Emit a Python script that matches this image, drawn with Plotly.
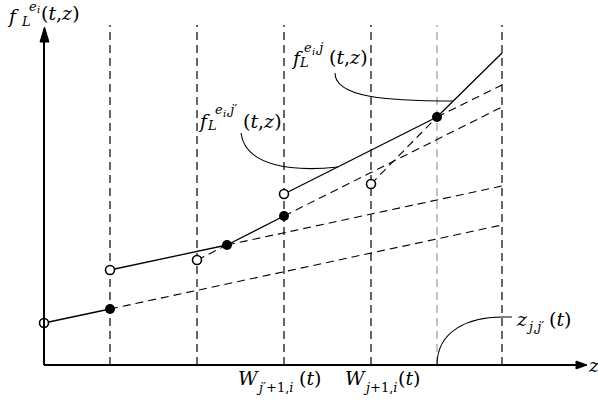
import plotly.graph_objects as go

# ---- data (z, f in chart units: z = distance from origin, f = height) ----
grid_z = [66, 153, 240, 327, 393, 458]          # vertical dashed guides
grid_color = ["black", "black", "black", "black", "#9a9a9a", "black"]
grid_top = 340

open_z = [0, 66, 153, 240, 327]
open_f = [42, 95, 105, 171, 181]
filled_z = [66, 183, 240, 393]
filled_f = [56, 120, 149, 248]

solid_segments = [
    ([0, 66], [42, 56]),
    ([66, 183], [95, 120]),
    ([183, 240], [120, 149]),
    ([240, 393], [171, 248]),
    ([393, 458], [248, 312]),
]
dashed_segments = [
    ([66, 458], [56, 140]),
    ([183, 458], [120, 179]),
    ([153, 183], [105, 120]),
    ([240, 458], [149, 258]),
    ([393, 458], [248, 280]),
    ([327, 393], [181, 248]),
]

# pixel helpers (figure is 598x404, plot fills it, 1 unit = 1 px)
OX, OY = 44, 365
def X(px):
    return px - OX
def Y(py):
    return OY - py

fig = go.Figure()

for gz, gc in zip(grid_z, grid_color):
    fig.add_trace(go.Scatter(x=[gz, gz], y=[0, grid_top], mode="lines",
                             line=dict(color=gc, width=1.2, dash="8px,5px"),
                             hoverinfo="skip", showlegend=False))

for xs, ys in dashed_segments:
    fig.add_trace(go.Scatter(x=xs, y=ys, mode="lines",
                             line=dict(color="black", width=1.1, dash="8px,5px"),
                             hoverinfo="skip", showlegend=False))
for xs, ys in solid_segments:
    fig.add_trace(go.Scatter(x=xs, y=ys, mode="lines",
                             line=dict(color="black", width=1.3),
                             hoverinfo="skip", showlegend=False))

fig.add_trace(go.Scatter(x=open_z, y=open_f, mode="markers",
                         marker=dict(symbol="circle", size=9, color="white",
                                     line=dict(color="black", width=1.6)),
                         showlegend=False, hoverinfo="skip"))
fig.add_trace(go.Scatter(x=filled_z, y=filled_f, mode="markers",
                         marker=dict(symbol="circle", size=10, color="black",
                                     line=dict(width=0)),
                         showlegend=False, hoverinfo="skip"))

shapes = []
# axes
shapes.append(dict(type="line", xref="x", yref="y", x0=0, y0=0, x1=0, y1=Y(40),
                   line=dict(color="black", width=2)))
shapes.append(dict(type="line", xref="x", yref="y", x0=0, y0=0, x1=X(578), y1=0,
                   line=dict(color="black", width=2)))
# arrow heads
shapes.append(dict(type="path", xref="x", yref="y",
                   path=f"M {X(40)},{Y(42)} L {X(44.5)},{Y(27)} L {X(49)},{Y(42)} Z",
                   fillcolor="black", line=dict(color="black", width=1)))
shapes.append(dict(type="path", xref="x", yref="y",
                   path=f"M {X(576)},{Y(361)} L {X(587)},{Y(365)} L {X(576)},{Y(369)} Z",
                   fillcolor="black", line=dict(color="black", width=1)))
# callout curves
def curve(p0, c1, c2, p1, extra=""):
    return (f"M {X(p0[0])},{Y(p0[1])} C {X(c1[0])},{Y(c1[1])} {X(c2[0])},{Y(c2[1])} "
            f"{X(p1[0])},{Y(p1[1])}" + extra)
shapes.append(dict(type="path", xref="x", yref="y",
                   path=curve((335, 73), (335, 97), (385, 101), (453, 101)),
                   line=dict(color="black", width=1.1)))
shapes.append(dict(type="path", xref="x", yref="y",
                   path=curve((241, 133), (245, 166), (292, 172), (338, 167)),
                   line=dict(color="black", width=1.1)))
shapes.append(dict(type="path", xref="x", yref="y",
                   path=curve((437, 365), (437, 330), (470, 317), (502, 317)) + f" L {X(512)},{Y(317)}",
                   line=dict(color="black", width=1.1)))

FONT = "DejaVu Serif"
MAIN, SCR, SCR2 = 19, 13, 10
anns = []
def lab(px, py, text, size=MAIN):
    anns.append(dict(x=X(px), y=Y(py), xref="x", yref="y", text=text, showarrow=False,
                     xanchor="left", yanchor="middle",
                     font=dict(family=FONT, size=size, color="black"), borderpad=0))

# f_L^{e_i}(t,z)
lab(6, 16, "<i>f</i>")
lab(20, 21, "<i>L</i>", SCR)
lab(28, 6, "<i>e</i>", SCR)
lab(36, 9, "<i>i</i>", SCR2)
lab(40, 13, "(<i>t</i>,<i>z</i>)")
# f_L^{e_i,j}(t,z)
lab(290, 58, "<i>f</i>")
lab(298, 62, "<i>L</i>", SCR)
lab(303, 47, "<i>e</i>", SCR)
lab(311, 51, "<i>i</i>", SCR2)
lab(314, 47, ",<i>j</i>", SCR)
lab(328, 57, "(<i>t</i>,<i>z</i>)")
# f_L^{e_i,j'}(t,z)
lab(197, 121, "<i>f</i>")
lab(206, 125, "<i>L</i>", SCR)
lab(214, 109, "<i>e</i>", SCR)
lab(222, 113, "<i>i</i>", SCR2)
lab(225, 109, ",<i>j′</i>", SCR)
lab(242, 121, "(<i>t</i>,<i>z</i>)")
# W labels
lab(237, 378, "<i>W</i>")
lab(255, 387, "<i>j′</i>+1,<i>i</i>", SCR)
lab(298, 378, "(<i>t</i>)")
lab(344, 378, "<i>W</i>")
lab(362, 387, "<i>j</i>+1,<i>i</i>", SCR)
lab(397, 378, "(<i>t</i>)")
# z_{j,j'}(t)
lab(515, 319, "<i>z</i>")
lab(525, 326, "<i>j</i>,<i>j′</i>", SCR)
lab(548, 319, "(<i>t</i>)")
# axis label z
lab(587, 365, "<i>z</i>")

fig.update_layout(
    width=598, height=404,
    margin=dict(l=0, r=0, t=0, b=0),
    paper_bgcolor="white", plot_bgcolor="white",
    xaxis=dict(range=[X(0), X(598)], visible=False, fixedrange=True),
    yaxis=dict(range=[Y(404), Y(0)], visible=False, fixedrange=True),
    shapes=shapes, annotations=anns, showlegend=False,
)
fig.write_html("out.html", config={"displayModeBar": False},
               post_script="document.body.style.margin='0';document.body.style.padding='0';")
